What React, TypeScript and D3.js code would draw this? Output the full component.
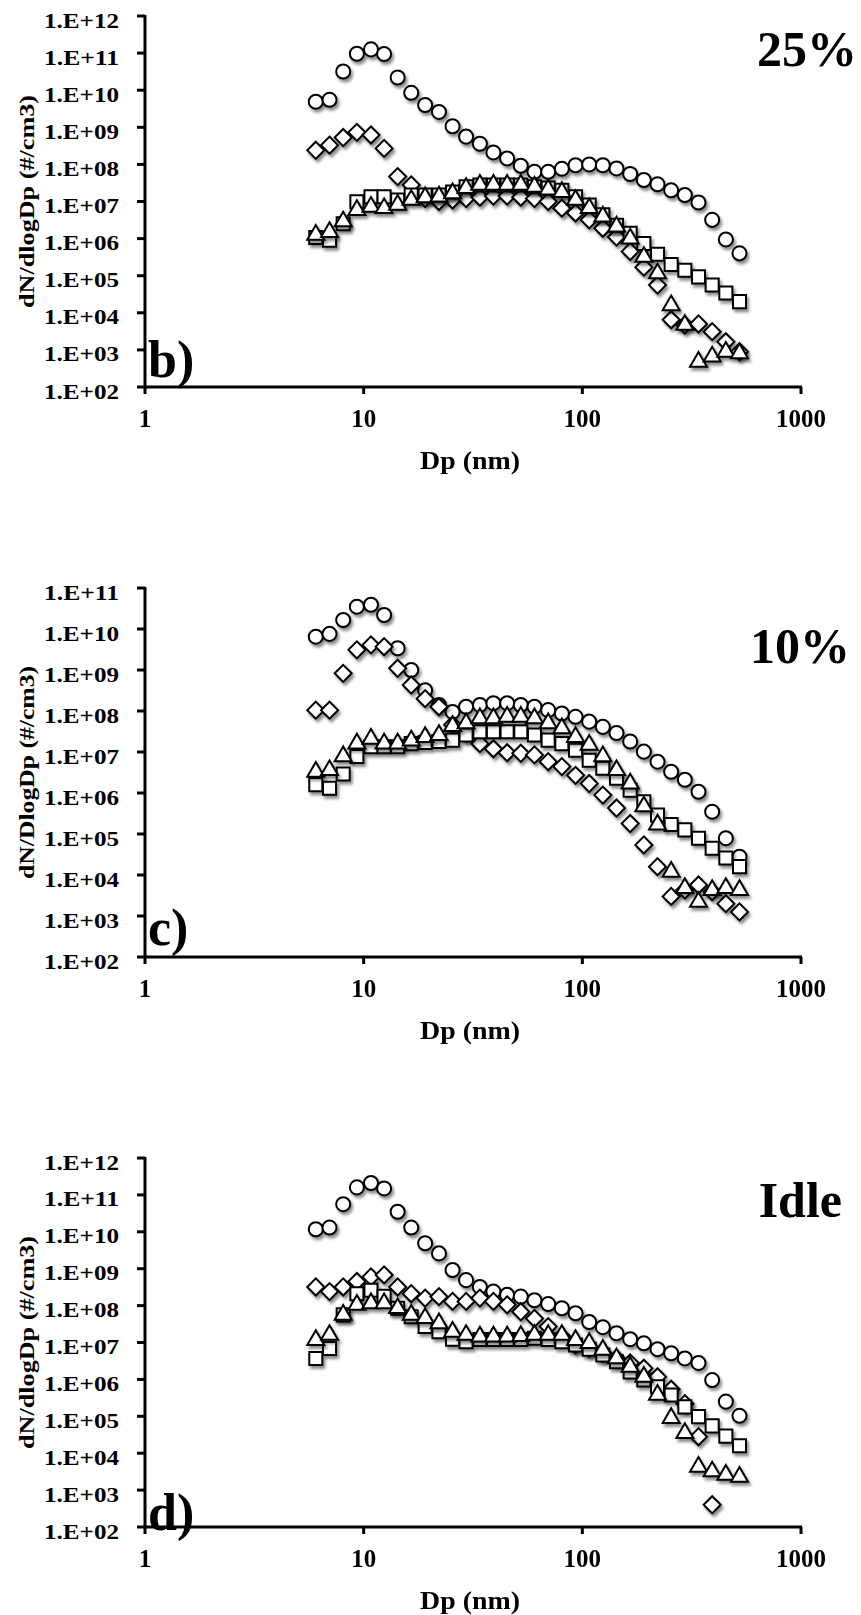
import * as d3 from "d3";

// EEPS channel mid-point diameters (nm)
const dp = [6.04, 6.98, 8.06, 9.31, 10.8, 12.4, 14.3, 16.5, 19.1, 22.1, 25.5, 29.4, 34.0, 39.2, 45.3, 52.3,
  60.4, 69.8, 80.6, 93.1, 107.5, 124.1, 143.3, 165.5, 191.1, 220.7, 254.8, 294.3, 339.8, 392.4, 453.2, 523.3];

const xTicks = [1, 10, 100, 1000];

// b) 25%
const p25Circle = [4.9e9, 5.5e9, 3.2e10, 9.6e10, 1.26e11, 9.4e10, 2.2e10, 8.5e9, 4.0e9, 2.6e9, 1.07e9, 5.6e8, 3.6e8, 2.1e8, 1.45e8, 9.2e7,
  6.3e7, 6.3e7, 7.6e7, 9.5e7, 1.0e8, 9.5e7, 7.8e7, 5.5e7, 3.8e7, 2.9e7, 2.0e7, 1.5e7, 9.4e6, 3.2e6, 9.5e5, 4.0e5];
const p25Diamond = [2.4e8, 3.3e8, 5.3e8, 7.3e8, 6.2e8, 2.7e8, 4.7e7, 2.8e7, 1.2e7, 1.0e7, 1.1e7, 1.2e7, 1.3e7, 1.4e7, 1.4e7, 1.3e7,
  1.2e7, 1.0e7, 6.6e6, 4.9e6, 3.2e6, 1.9e6, 1.1e6, 4.5e5, 1.7e5, 5.6e4, 6.5e3, 4.7e3, 5.0e3, 3.1e3, 1.66e3, 8.9e2];
const p25Square = [1.07e6, 9.1e5, 2.5e6, 9.8e6, 1.35e7, 1.35e7, 1.1e7, 1.5e7, 1.5e7, 1.5e7, 1.8e7, 2.5e7, 2.8e7, 2.8e7, 2.8e7, 2.8e7,
  2.5e7, 2.3e7, 2.0e7, 1.35e7, 8.1e6, 4.4e6, 2.3e6, 1.4e6, 7.4e5, 3.8e5, 2.0e5, 1.4e5, 9.3e4, 5.6e4, 3.4e4, 2.0e4];
const p25Triangle = [1.26e6, 1.5e6, 2.9e6, 5.9e6, 7.2e6, 6.6e6, 8.1e6, 1.1e7, 1.3e7, 1.35e7, 1.66e7, 2.3e7, 2.8e7, 2.8e7, 2.8e7, 2.8e7,
  2.5e7, 2.1e7, 1.8e7, 1.1e7, 6.6e6, 3.9e6, 2.1e6, 1.0e6, 3.2e5, 1.15e5, 1.6e4, 4.7e3, 4.8e2, 6.6e2, 8.9e2, 8.1e2];

// c) 10%
const p10Circle = [6.5e9, 7.6e9, 1.66e10, 3.5e10, 3.9e10, 2.2e10, 3.4e9, 1.0e9, 3.2e8, 1.4e8, 9.5e7, 1.27e8, 1.4e8, 1.55e8, 1.55e8, 1.4e8,
  1.27e8, 1.05e8, 8.7e7, 7.2e7, 5.5e7, 4.1e7, 2.9e7, 1.8e7, 1.02e7, 5.8e6, 3.3e6, 2.1e6, 1.07e6, 3.5e5, 7.9e4, 2.8e4];
const p10Diamond = [1.05e8, 1.05e8, 8.3e8, 3.1e9, 4.1e9, 3.7e9, 1.1e9, 4.3e8, 2.0e8, 1.27e8, 4.6e7, 2.9e7, 1.6e7, 1.2e7, 9.6e6, 9.3e6,
  8.5e6, 5.8e6, 4.4e6, 2.7e6, 1.7e6, 8.9e5, 4.3e5, 1.8e5, 5.4e4, 1.6e4, 3.0e3, 4.3e3, 5.7e3, 3.9e3, 2.0e3, 1.26e3];
const p10Square = [1.6e6, 1.3e6, 2.9e6, 7.8e6, 1.35e7, 1.35e7, 1.35e7, 1.6e7, 1.7e7, 1.8e7, 1.95e7, 2.6e7, 3.1e7, 3.1e7, 3.1e7, 3.1e7,
  2.6e7, 1.95e7, 1.6e7, 1.1e7, 6.3e6, 4.0e6, 2.3e6, 1.17e6, 6.1e5, 2.9e5, 1.7e5, 1.26e5, 7.9e4, 4.5e4, 2.6e4, 1.6e4];
const p10Triangle = [3.3e6, 3.6e6, 7.8e6, 1.6e7, 2.1e7, 1.6e7, 1.6e7, 1.9e7, 2.3e7, 2.6e7, 4.3e7, 5.0e7, 6.6e7, 6.6e7, 7.2e7, 7.2e7,
  6.6e7, 5.0e7, 3.8e7, 2.3e7, 1.5e7, 7.8e6, 3.6e6, 1.7e6, 4.7e5, 1.7e5, 1.2e4, 4.8e3, 2.2e3, 4.3e3, 4.8e3, 4.3e3];

// d) Idle
const idleCircle = [1.17e10, 1.3e10, 5.6e10, 1.6e11, 2.1e11, 1.5e11, 3.5e10, 1.3e10, 4.9e9, 2.6e9, 9.2e8, 4.9e8, 3.2e8, 2.4e8, 1.95e8, 1.75e8,
  1.4e8, 1.1e8, 8.5e7, 6.2e7, 3.6e7, 2.6e7, 1.78e7, 1.23e7, 9.5e6, 6.6e6, 5.1e6, 3.7e6, 2.8e6, 9.6e5, 2.5e5, 1.03e5];
const idleDiamond = [3.2e8, 2.4e8, 3.2e8, 4.5e8, 6.0e8, 6.8e8, 3.2e8, 2.1e8, 1.6e8, 1.75e8, 1.3e8, 1.3e8, 1.6e8, 1.3e8, 1.05e8, 6.8e7,
  4.5e7, 2.7e7, 1.45e7, 8.5e6, 6.9e6, 5.1e6, 3.7e6, 2.8e6, 2.0e6, 1.18e6, 5.4e5, 2.2e5, 2.8e4, 4.0e2, null, null];
const idleSquare = [3.7e6, 6.9e6, 5.6e7, 2.1e8, 2.6e8, 1.8e8, 8.5e7, 5.0e7, 2.7e7, 1.95e7, 1.23e7, 1.05e7, 1.2e7, 1.2e7, 1.2e7, 1.2e7,
  1.3e7, 1.2e7, 1.05e7, 8.5e6, 6.6e6, 4.6e6, 3.0e6, 1.6e6, 9.6e5, 6.3e5, 3.8e5, 1.8e5, 9.8e4, 5.5e4, 2.9e4, 1.6e4];
const idleTriangle = [1.17e7, 1.6e7, 5.6e7, 1.05e8, 1.15e8, 1.15e8, 8.5e7, 5.6e7, 4.6e7, 3.3e7, 1.95e7, 1.6e7, 1.45e7, 1.45e7, 1.45e7, 1.5e7,
  1.6e7, 1.6e7, 1.6e7, 1.17e7, 9.6e6, 6.3e6, 3.7e6, 2.2e6, 1.18e6, 3.8e5, 8.9e4, 3.5e4, 4.3e3, 3.2e3, 2.6e3, 2.3e3];

const panels = [
  { tag: "b)", title: "25%", yLabel: "dN/dlogDp (#/cm3)", maxExp: 12, top: 16, bottom: 387, tagDy: -10,
    series: [p25Circle, p25Diamond, p25Square, p25Triangle] },
  { tag: "c)", title: "10%", yLabel: "dN/DlogDp (#/cm3)", maxExp: 11, top: 588, bottom: 957, tagDy: -12,
    series: [p10Circle, p10Diamond, p10Square, p10Triangle] },
  { tag: "d)", title: "Idle", yLabel: "dN/dlogDp (#/cm3)", maxExp: 12, top: 1158, bottom: 1527, tagDy: 3,
    series: [idleCircle, idleDiamond, idleSquare, idleTriangle] },
];

const titleBaseline = [66, 663, 1217];
const titleRight = [857, 850, 842];

const symbols = [
  { type: d3.symbolCircle, size: 155, rotate: 0 },
  { type: d3.symbolSquare, size: 145, rotate: 45 },
  { type: d3.symbolSquare, size: 170, rotate: 0 },
  { type: d3.symbolTriangle, size: 125, rotate: 0 },
];

const font = "'Liberation Serif', 'Times New Roman', serif";

function Panel({ p, i }: { p: any; i: number }) {
  const x = d3.scaleLog().domain([1, 1000]).range([145, 801]);
  const y = d3.scaleLog().domain([1e2, Math.pow(10, p.maxExp)]).range([p.bottom, p.top]);
  const exps = d3.range(2, p.maxExp + 1);
  const midY = (p.top + p.bottom) / 2;

  return (
    <g>
      {p.series.map((vals: (number | null)[], si: number) => {
        const sym = symbols[si];
        const path = d3.symbol(sym.type, sym.size)() as string;
        return (
          <g key={si} filter="url(#shadow)">
            {vals.map((v, k) =>
              v == null ? null : (
                <path key={k} d={path}
                  transform={`translate(${x(dp[k])},${y(v)}) rotate(${sym.rotate})`}
                  fill="#fff" stroke="#000" strokeWidth={2} />
              ))}
          </g>
        );
      })}

      <text x={148} y={p.bottom + p.tagDy} fontFamily={font} fontWeight="bold" fontSize={52}>{p.tag}</text>

      {/* y axis */}
      <line x1={145} x2={145} y1={p.top - 1} y2={p.bottom + 1} stroke="#000" strokeWidth={3} />
      {exps.map((e: number) => (
        <g key={e}>
          <line x1={137} x2={145} y1={y(Math.pow(10, e))} y2={y(Math.pow(10, e))} stroke="#000" strokeWidth={3} />
          <text x={44} y={y(Math.pow(10, e)) + 11.5} textLength={75} lengthAdjust="spacingAndGlyphs"
            fontFamily={font} fontWeight="bold" fontSize={22}>{"1.E+" + d3.format("02d")(e)}</text>
        </g>
      ))}
      <text transform={`translate(34,${midY}) rotate(-90)`} textAnchor="middle" textLength={213}
        lengthAdjust="spacingAndGlyphs" fontFamily={font} fontWeight="bold" fontSize={22}>{p.yLabel}</text>

      {/* x axis */}
      <line x1={144} x2={802} y1={p.bottom} y2={p.bottom} stroke="#000" strokeWidth={3} />
      {xTicks.map((t) => (
        <g key={t}>
          <line x1={x(t)} x2={x(t)} y1={p.bottom} y2={p.bottom + 7} stroke="#000" strokeWidth={3} />
          <text x={x(t)} y={p.bottom + 40} textAnchor="middle" fontFamily={font} fontWeight="bold" fontSize={25}>{t}</text>
        </g>
      ))}
      <text x={470} y={p.bottom + 82} textAnchor="middle" textLength={100} lengthAdjust="spacingAndGlyphs"
        fontFamily={font} fontWeight="bold" fontSize={25}>Dp (nm)</text>

      <text x={titleRight[i]} y={titleBaseline[i]} textAnchor="end" fontFamily={font} fontWeight="bold" fontSize={50}>{p.title}</text>
    </g>
  );
}

export default function App() {
  return (
    <svg width={861} height={1615} style={{ position: "absolute", left: 0, top: 0, background: "#fff" }}>
      <defs>
        <filter id="shadow" x="-20%" y="-20%" width="140%" height="140%">
          <feDropShadow dx={2} dy={3} stdDeviation={1.6} floodColor="#000" floodOpacity={0.45} />
        </filter>
      </defs>
      {panels.map((p, i) => <Panel key={i} p={p} i={i} />)}
    </svg>
  );
}
